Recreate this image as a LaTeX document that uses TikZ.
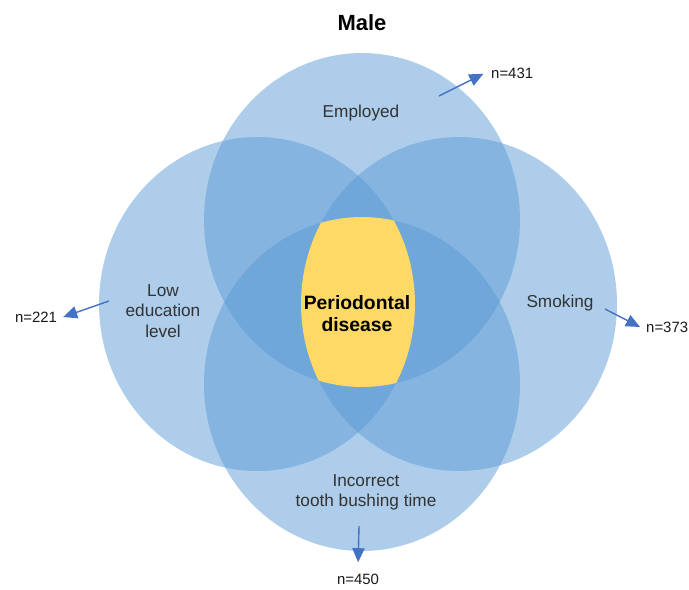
\documentclass[tikz,border=0pt]{standalone}
\usepackage{fontspec}
\setmainfont{Liberation Sans}
\usetikzlibrary{arrows.meta}
\definecolor{vennblue}{HTML}{5B9BD5}
\definecolor{coreyellow}{HTML}{FFD966}
\definecolor{arrowblue}{HTML}{4472C4}

\begin{document}
\begin{tikzpicture}[
    x=0.02cm, y=-0.02cm,
    set/.style={fill=vennblue, fill opacity=0.5},
    oval/.style={x radius=3.16cm, y radius=3.34cm},
    label/.style={font=\fontsize{9.8}{11.5}\selectfont, text=black!80, align=center},
    count/.style={font=\fontsize{8.5}{10}\selectfont, text=black!90},
    arrow/.style={-{Triangle[length=8pt, width=7pt]}, line width=0.8pt, draw=arrowblue}
]
    \useasboundingbox (0,0) rectangle (689,589);

    % Four sets
    \fill[set] (362,220) ellipse [oval];
    \fill[set] (362,384) ellipse [oval];
    \fill[set] (257,304) ellipse [oval];
    \fill[set] (459,304) ellipse [oval];

    % Common part of all four sets
    \begin{scope}
        \clip (362,220) ellipse [oval];
        \clip (362,384) ellipse [oval];
        \clip (257,304) ellipse [oval];
        \fill[coreyellow] (459,304) ellipse [oval];
    \end{scope}

    % Title and set labels
    \node[font=\fontsize{12.5}{14}\selectfont\bfseries] (title) at (362,23) {Male};
    \node[label] (employed) at (361,113) {Employed};
    \node[label] (education) at (163,311) {Low\\education\\level};
    \node[label] (smoking) at (560,303) {Smoking};
    \node[label] (brushing) at (366,492) {Incorrect\\tooth bushing time};
    \node[font=\fontsize{11}{12.5}\selectfont\bfseries, align=center] (disease) at (357,314) {Periodontal\\disease};

    % Counts
    \node[count, anchor=west] (n431) at (485,73) {n=431};
    \node[count] (n221) at (36,317) {n=221};
    \node[count, anchor=west] (n373) at (640,327) {n=373};
    \node[count] (n450) at (358,579) {n=450};

    % Arrows
    \coordinate (employedtail) at (439,96);
    \coordinate (educationtail) at (109,301);
    \coordinate (smokingtail) at (605,309);
    \coordinate (brushingtail) at (359,526);
    \draw[arrow, shorten >=1pt] (employedtail) -- (n431.west);
    \draw[arrow] (educationtail) -- (n221.east);
    \draw[arrow] (smokingtail) -- (n373.west);
    \draw[arrow, shorten >=3pt] (brushingtail) -- (n450.north);
\end{tikzpicture}
\end{document}
